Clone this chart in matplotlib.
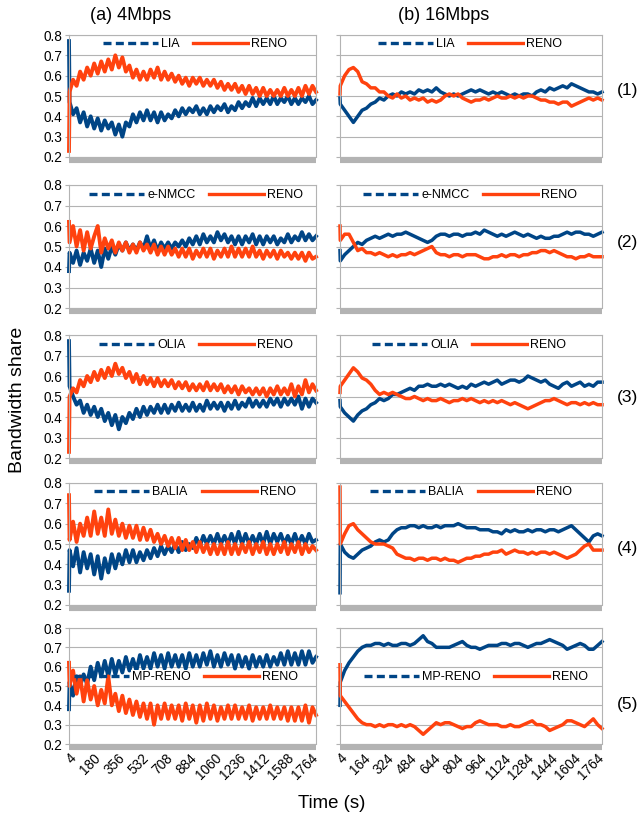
import numpy as np
import matplotlib
matplotlib.use("Agg")
import matplotlib.pyplot as plt
from matplotlib.lines import Line2D

plt.rcParams['font.family'] = ['Liberation Sans', 'DejaVu Sans']

BLUE = "#004586"
ORANGE = "#ff420e"
GRID = "#b3b3b3"
W, H = 642, 814

# ── data: left column (4 Mbps), sampled every ~25 s ─────────────────────────
LIA_4 = [0.77, 0.47, 0.41, 0.44, 0.37, 0.42, 0.35, 0.40, 0.34, 0.39, 0.33, 0.38,
         0.34, 0.37, 0.31, 0.36, 0.30, 0.37, 0.35, 0.41, 0.37, 0.42, 0.38, 0.43,
         0.38, 0.42, 0.37, 0.42, 0.38, 0.41, 0.39, 0.43, 0.40, 0.44, 0.41, 0.44,
         0.42, 0.45, 0.41, 0.44, 0.41, 0.45, 0.42, 0.45, 0.43, 0.46, 0.42, 0.45,
         0.43, 0.47, 0.44, 0.47, 0.45, 0.49, 0.45, 0.49, 0.46, 0.49, 0.46, 0.50,
         0.46, 0.49, 0.47, 0.50, 0.46, 0.49, 0.46, 0.49, 0.47, 0.50, 0.46, 0.48]
RENO_LIA_4 = [0.23, 0.52, 0.58, 0.55, 0.62, 0.58, 0.64, 0.60, 0.66, 0.61, 0.67, 0.62,
              0.68, 0.63, 0.70, 0.64, 0.69, 0.62, 0.65, 0.59, 0.63, 0.58, 0.62, 0.58,
              0.63, 0.59, 0.64, 0.58, 0.62, 0.58, 0.61, 0.57, 0.60, 0.56, 0.59, 0.55,
              0.59, 0.56, 0.59, 0.55, 0.58, 0.55, 0.58, 0.54, 0.57, 0.53, 0.56, 0.53,
              0.56, 0.52, 0.55, 0.51, 0.55, 0.51, 0.54, 0.50, 0.54, 0.50, 0.53, 0.50,
              0.53, 0.50, 0.54, 0.50, 0.53, 0.50, 0.54, 0.50, 0.55, 0.51, 0.55, 0.52]
ENMCC_4 = [0.38, 0.47, 0.42, 0.48, 0.41, 0.47, 0.43, 0.49, 0.42, 0.48, 0.40, 0.49,
           0.44, 0.50, 0.46, 0.51, 0.48, 0.52, 0.48, 0.51, 0.48, 0.52, 0.49, 0.55,
           0.49, 0.53, 0.48, 0.52, 0.49, 0.52, 0.49, 0.52, 0.50, 0.53, 0.50, 0.54,
           0.51, 0.55, 0.51, 0.56, 0.52, 0.55, 0.52, 0.57, 0.53, 0.56, 0.52, 0.55,
           0.51, 0.55, 0.51, 0.55, 0.52, 0.56, 0.51, 0.55, 0.51, 0.55, 0.52, 0.55,
           0.51, 0.54, 0.52, 0.56, 0.52, 0.55, 0.53, 0.57, 0.53, 0.56, 0.53, 0.55]
RENO_ENMCC_4 = [0.62, 0.52, 0.60, 0.50, 0.58, 0.48, 0.57, 0.49, 0.55, 0.60, 0.47, 0.54,
                0.49, 0.53, 0.47, 0.52, 0.48, 0.52, 0.47, 0.51, 0.47, 0.52, 0.48, 0.51,
                0.47, 0.51, 0.46, 0.50, 0.46, 0.50, 0.46, 0.49, 0.45, 0.49, 0.45, 0.49,
                0.44, 0.48, 0.45, 0.49, 0.45, 0.49, 0.44, 0.48, 0.45, 0.49, 0.45, 0.50,
                0.45, 0.49, 0.45, 0.49, 0.45, 0.50, 0.45, 0.48, 0.44, 0.48, 0.45, 0.48,
                0.44, 0.48, 0.45, 0.47, 0.44, 0.47, 0.44, 0.47, 0.43, 0.47, 0.44, 0.45]
OLIA_4 = [0.77, 0.55, 0.50, 0.46, 0.48, 0.42, 0.46, 0.41, 0.45, 0.40, 0.44, 0.38,
          0.42, 0.36, 0.41, 0.34, 0.40, 0.37, 0.42, 0.39, 0.44, 0.40, 0.45, 0.41,
          0.45, 0.42, 0.46, 0.42, 0.46, 0.42, 0.46, 0.43, 0.47, 0.43, 0.46, 0.43,
          0.47, 0.43, 0.46, 0.43, 0.48, 0.44, 0.47, 0.44, 0.47, 0.43, 0.47, 0.44,
          0.48, 0.44, 0.47, 0.45, 0.49, 0.45, 0.48, 0.45, 0.48, 0.45, 0.49, 0.46,
          0.49, 0.45, 0.49, 0.46, 0.49, 0.46, 0.50, 0.44, 0.49, 0.45, 0.49, 0.47]
RENO_OLIA_4 = [0.23, 0.50, 0.54, 0.52, 0.58, 0.55, 0.60, 0.57, 0.62, 0.58, 0.63, 0.59,
               0.64, 0.60, 0.66, 0.61, 0.64, 0.59, 0.62, 0.57, 0.61, 0.56, 0.60, 0.56,
               0.59, 0.55, 0.59, 0.55, 0.58, 0.55, 0.58, 0.54, 0.57, 0.54, 0.57, 0.53,
               0.56, 0.53, 0.56, 0.53, 0.57, 0.53, 0.56, 0.53, 0.56, 0.52, 0.55, 0.52,
               0.55, 0.51, 0.55, 0.52, 0.54, 0.51, 0.54, 0.51, 0.54, 0.50, 0.54, 0.51,
               0.55, 0.51, 0.54, 0.51, 0.56, 0.50, 0.55, 0.51, 0.58, 0.52, 0.56, 0.53]
BALIA_4 = [0.27, 0.47, 0.39, 0.48, 0.36, 0.46, 0.38, 0.45, 0.35, 0.44, 0.33, 0.43,
           0.36, 0.45, 0.38, 0.45, 0.40, 0.47, 0.41, 0.47, 0.41, 0.46, 0.42, 0.47,
           0.43, 0.48, 0.44, 0.49, 0.45, 0.49, 0.46, 0.50, 0.46, 0.51, 0.47, 0.50,
           0.48, 0.53, 0.49, 0.54, 0.50, 0.54, 0.50, 0.55, 0.50, 0.54, 0.50, 0.55,
           0.50, 0.56, 0.50, 0.55, 0.50, 0.54, 0.50, 0.55, 0.50, 0.56, 0.50, 0.55,
           0.51, 0.55, 0.50, 0.54, 0.50, 0.55, 0.50, 0.54, 0.50, 0.55, 0.51, 0.52]
RENO_BALIA_4 = [0.74, 0.52, 0.61, 0.51, 0.60, 0.54, 0.63, 0.54, 0.66, 0.55, 0.63, 0.54,
                0.67, 0.55, 0.62, 0.54, 0.60, 0.53, 0.59, 0.53, 0.59, 0.52, 0.58, 0.52,
                0.57, 0.51, 0.55, 0.50, 0.54, 0.49, 0.53, 0.48, 0.53, 0.47, 0.52, 0.47,
                0.51, 0.46, 0.51, 0.46, 0.50, 0.45, 0.50, 0.45, 0.50, 0.45, 0.51, 0.45,
                0.50, 0.45, 0.50, 0.46, 0.51, 0.45, 0.50, 0.46, 0.51, 0.45, 0.50, 0.45,
                0.50, 0.46, 0.51, 0.45, 0.50, 0.46, 0.51, 0.45, 0.50, 0.46, 0.49, 0.47]
MPRENO_4 = [0.38, 0.52, 0.45, 0.55, 0.50, 0.56, 0.51, 0.60, 0.53, 0.62, 0.55, 0.63,
            0.55, 0.64, 0.56, 0.63, 0.57, 0.65, 0.58, 0.64, 0.58, 0.66, 0.59, 0.65,
            0.59, 0.67, 0.60, 0.66, 0.59, 0.67, 0.60, 0.66, 0.60, 0.66, 0.59, 0.67,
            0.60, 0.66, 0.60, 0.67, 0.61, 0.68, 0.60, 0.66, 0.60, 0.67, 0.61, 0.66,
            0.59, 0.66, 0.60, 0.65, 0.59, 0.66, 0.60, 0.65, 0.60, 0.66, 0.60, 0.65,
            0.61, 0.67, 0.61, 0.68, 0.61, 0.67, 0.61, 0.68, 0.61, 0.68, 0.62, 0.65]
RENO_MPRENO_4 = [0.62, 0.50, 0.58, 0.46, 0.55, 0.42, 0.53, 0.43, 0.50, 0.40, 0.48, 0.41,
                 0.55, 0.40, 0.46, 0.37, 0.45, 0.36, 0.43, 0.35, 0.42, 0.34, 0.41, 0.33,
                 0.41, 0.30, 0.40, 0.33, 0.41, 0.33, 0.40, 0.33, 0.40, 0.32, 0.41, 0.33,
                 0.40, 0.31, 0.40, 0.32, 0.41, 0.33, 0.40, 0.32, 0.39, 0.33, 0.40, 0.33,
                 0.40, 0.33, 0.39, 0.33, 0.40, 0.32, 0.39, 0.33, 0.39, 0.33, 0.40, 0.33,
                 0.39, 0.33, 0.39, 0.32, 0.39, 0.32, 0.39, 0.32, 0.40, 0.31, 0.39, 0.35]

# ── data: right column (16 Mbps), first value at t=4 then every ~30 s ──────
LIA_16 = [0.49, 0.46,
          0.43, 0.40, 0.37, 0.40, 0.43, 0.44, 0.46, 0.47, 0.49, 0.48,
          0.50, 0.51, 0.50, 0.52, 0.51, 0.52, 0.51, 0.53, 0.52, 0.53,
          0.52, 0.54, 0.52, 0.51, 0.50, 0.51, 0.50, 0.51, 0.52, 0.53,
          0.52, 0.53, 0.52, 0.51, 0.52, 0.51, 0.52, 0.51, 0.50, 0.51,
          0.50, 0.51, 0.51, 0.50, 0.52, 0.53, 0.52, 0.54, 0.53, 0.54,
          0.55, 0.54, 0.56, 0.55, 0.54, 0.53, 0.52, 0.52, 0.51, 0.52]
RENO_LIA_16 = [0.51, 0.55,
               0.60, 0.63, 0.64, 0.62, 0.57, 0.56, 0.54, 0.54, 0.52, 0.52,
               0.50, 0.49, 0.51, 0.49, 0.50, 0.48, 0.49, 0.48, 0.49, 0.47,
               0.48, 0.47, 0.48, 0.50, 0.51, 0.50, 0.51, 0.49, 0.48, 0.47,
               0.48, 0.48, 0.49, 0.48, 0.49, 0.50, 0.49, 0.49, 0.50, 0.49,
               0.50, 0.49, 0.50, 0.50, 0.49, 0.48, 0.48, 0.47, 0.47, 0.46,
               0.47, 0.47, 0.45, 0.46, 0.47, 0.48, 0.49, 0.48, 0.49, 0.48]
ENMCC_16 = [0.48, 0.43,
            0.46, 0.48, 0.50, 0.52, 0.51, 0.53, 0.54, 0.55, 0.54, 0.55,
            0.56, 0.55, 0.56, 0.56, 0.57, 0.56, 0.55, 0.54, 0.53, 0.52,
            0.53, 0.55, 0.56, 0.56, 0.55, 0.56, 0.56, 0.55, 0.56, 0.56,
            0.57, 0.56, 0.58, 0.57, 0.56, 0.55, 0.56, 0.55, 0.56, 0.57,
            0.56, 0.55, 0.56, 0.55, 0.54, 0.55, 0.54, 0.54, 0.55, 0.55,
            0.56, 0.57, 0.56, 0.57, 0.57, 0.56, 0.56, 0.55, 0.56, 0.57]
RENO_ENMCC_16 = [0.60, 0.53,
                 0.56, 0.56, 0.52, 0.48, 0.49, 0.47, 0.47, 0.46, 0.47, 0.46,
                 0.45, 0.46, 0.45, 0.46, 0.46, 0.47, 0.46, 0.47, 0.48, 0.49,
                 0.50, 0.47, 0.46, 0.46, 0.45, 0.46, 0.46, 0.45, 0.46, 0.46,
                 0.46, 0.45, 0.44, 0.44, 0.45, 0.45, 0.46, 0.45, 0.46, 0.46,
                 0.45, 0.46, 0.46, 0.47, 0.47, 0.48, 0.48, 0.47, 0.48, 0.47,
                 0.46, 0.45, 0.45, 0.44, 0.45, 0.45, 0.46, 0.45, 0.45, 0.45]
OLIA_16 = [0.48, 0.45,
           0.42, 0.40, 0.38, 0.41, 0.43, 0.44, 0.46, 0.47, 0.49, 0.48,
           0.49, 0.51, 0.51, 0.52, 0.53, 0.54, 0.53, 0.55, 0.55, 0.56,
           0.55, 0.55, 0.56, 0.55, 0.56, 0.55, 0.54, 0.55, 0.54, 0.56,
           0.55, 0.56, 0.57, 0.56, 0.57, 0.58, 0.56, 0.57, 0.58, 0.58,
           0.57, 0.58, 0.60, 0.59, 0.58, 0.57, 0.58, 0.56, 0.55, 0.54,
           0.56, 0.57, 0.55, 0.56, 0.57, 0.55, 0.56, 0.55, 0.57, 0.57]
RENO_OLIA_16 = [0.52, 0.55,
                0.58, 0.61, 0.64, 0.62, 0.59, 0.58, 0.56, 0.53, 0.51, 0.52,
                0.51, 0.52, 0.51, 0.50, 0.49, 0.49, 0.50, 0.49, 0.48, 0.49,
                0.48, 0.48, 0.49, 0.48, 0.47, 0.48, 0.48, 0.49, 0.48, 0.49,
                0.48, 0.47, 0.48, 0.47, 0.48, 0.47, 0.48, 0.47, 0.46, 0.47,
                0.46, 0.45, 0.44, 0.45, 0.46, 0.47, 0.48, 0.48, 0.49, 0.48,
                0.47, 0.46, 0.47, 0.47, 0.46, 0.47, 0.46, 0.47, 0.46, 0.46]
BALIA_16 = [0.26, 0.50,
            0.46, 0.44, 0.43, 0.45, 0.47, 0.48, 0.49, 0.51, 0.52, 0.51,
            0.52, 0.55, 0.57, 0.58, 0.58, 0.59, 0.59, 0.58, 0.59, 0.58,
            0.58, 0.59, 0.58, 0.59, 0.59, 0.59, 0.60, 0.59, 0.58, 0.58,
            0.58, 0.57, 0.57, 0.57, 0.56, 0.56, 0.55, 0.57, 0.56, 0.57,
            0.56, 0.56, 0.57, 0.56, 0.57, 0.57, 0.56, 0.57, 0.57, 0.56,
            0.57, 0.58, 0.59, 0.57, 0.55, 0.53, 0.51, 0.54, 0.55, 0.54]
RENO_BALIA_16 = [0.78, 0.50,
                 0.55, 0.59, 0.60, 0.57, 0.55, 0.53, 0.51, 0.50, 0.50, 0.50,
                 0.49, 0.48, 0.45, 0.44, 0.43, 0.43, 0.42, 0.43, 0.43, 0.42,
                 0.43, 0.43, 0.42, 0.43, 0.42, 0.42, 0.41, 0.42, 0.43, 0.43,
                 0.44, 0.44, 0.45, 0.45, 0.46, 0.46, 0.47, 0.45, 0.46, 0.47,
                 0.46, 0.46, 0.45, 0.46, 0.45, 0.46, 0.46, 0.45, 0.46, 0.45,
                 0.44, 0.43, 0.44, 0.45, 0.47, 0.49, 0.50, 0.47, 0.47, 0.47]
MPRENO_16 = [0.40, 0.52,
             0.58, 0.62, 0.65, 0.68, 0.70, 0.71, 0.71, 0.72, 0.72, 0.71,
             0.72, 0.71, 0.71, 0.72, 0.72, 0.71, 0.72, 0.74, 0.76, 0.73,
             0.72, 0.70, 0.70, 0.70, 0.70, 0.71, 0.72, 0.73, 0.71, 0.70,
             0.70, 0.69, 0.70, 0.71, 0.71, 0.71, 0.72, 0.72, 0.71, 0.72,
             0.72, 0.71, 0.70, 0.71, 0.72, 0.72, 0.73, 0.74, 0.73, 0.72,
             0.71, 0.69, 0.70, 0.71, 0.72, 0.71, 0.69, 0.69, 0.71, 0.73]
RENO_MPRENO_16 = [0.61, 0.45,
                  0.42, 0.39, 0.36, 0.33, 0.31, 0.30, 0.30, 0.29, 0.30, 0.29,
                  0.30, 0.30, 0.29, 0.30, 0.29, 0.30, 0.29, 0.27, 0.25, 0.27,
                  0.29, 0.31, 0.30, 0.31, 0.31, 0.30, 0.29, 0.28, 0.29, 0.29,
                  0.31, 0.32, 0.31, 0.30, 0.30, 0.30, 0.29, 0.29, 0.30, 0.29,
                  0.29, 0.30, 0.31, 0.32, 0.30, 0.30, 0.29, 0.27, 0.28, 0.29,
                  0.30, 0.32, 0.32, 0.31, 0.30, 0.29, 0.31, 0.33, 0.30, 0.28]

ALGOS = ["LIA", "e-NMCC", "OLIA", "BALIA", "MP-RENO"]
LEFT = [(LIA_4, RENO_LIA_4), (ENMCC_4, RENO_ENMCC_4), (OLIA_4, RENO_OLIA_4),
        (BALIA_4, RENO_BALIA_4), (MPRENO_4, RENO_MPRENO_4)]
RIGHT = [(LIA_16, RENO_LIA_16), (ENMCC_16, RENO_ENMCC_16), (OLIA_16, RENO_OLIA_16),
         (BALIA_16, RENO_BALIA_16), (MPRENO_16, RENO_MPRENO_16)]
TICKS_4 = list(range(4, 1765, 176))
TICKS_16 = list(range(4, 1765, 160))
YTICKS = [0.2, 0.3, 0.4, 0.5, 0.6, 0.7, 0.8]

# ── layout in pixels ─────────────────────────────────────────────────────────
ROWS = [(35, 157), (185, 308), (335, 458), (483, 605), (628, 744)]
COLS = [(69, 316), (340, 602)]
LEG_POS = [[(195, 44), (470, 44)], [(196, 195), (470, 195)], [(196, 345), (469, 345)],
           [(195, 492), (471, 492)], [(186, 677), (476, 677)]]
ROW_LBL_Y = [91, 243, 397, 549, 705]


def times(vals, step_start):
    # first sample at t=4 (spike), rest evenly spread up to 1800 s
    return np.r_[4, np.linspace(step_start, 1800, len(vals) - 1)]


def style_axes(ax, xticks, ylabels, xlabels):
    ax.set_xlim(4, 1800)
    ax.set_ylim(0.2, 0.8)
    ax.set_yticks(YTICKS)
    ax.yaxis.grid(True, color=GRID, lw=0.8)
    ax.set_axisbelow(True)
    for s in ("top", "right", "left"):
        ax.spines[s].set_color(GRID)
        ax.spines[s].set_linewidth(0.8)
    ax.spines["bottom"].set_color(GRID)
    ax.spines["bottom"].set_linewidth(4.4)
    ax.spines["bottom"].set_capstyle("butt")
    ax.spines["bottom"].set_position(("outward", 2.2))
    ax.tick_params(axis="y", direction="out", length=3, color=GRID, labelsize=9.8,
                   pad=2, labelleft=ylabels)
    ax.set_xticks(xticks)
    ax.tick_params(axis="x", length=0, labelsize=9.8, pad=3, labelbottom=xlabels)
    if ylabels:
        ax.set_yticklabels([f"{v:.1f}" for v in YTICKS])
    if xlabels:
        ax.set_xticklabels([str(t) for t in xticks], rotation=45, ha="right",
                           va="top", rotation_mode="anchor")


fig = plt.figure(figsize=(W / 100, H / 100), dpi=100)

for r, (top, bot) in enumerate(ROWS):
    for c, (x0, x1) in enumerate(COLS):
        ax = fig.add_axes([x0 / W, 1 - bot / H, (x1 - x0) / W, (bot - top) / H])
        mp, reno = (LEFT if c == 0 else RIGHT)[r]
        start = 8 if c == 0 else 6
        lw = 2.8 if c == 0 else 2.5
        ax.plot(times(mp, start), mp, color=BLUE, lw=lw, clip_on=False,
                solid_joinstyle="round")
        ax.plot(times(reno, start), reno, color=ORANGE, lw=lw, clip_on=False,
                solid_joinstyle="round")
        style_axes(ax, TICKS_4 if c == 0 else TICKS_16, c == 0, r == len(ROWS) - 1)

        handles = [Line2D([0], [0], color=BLUE, lw=2.4, ls=(0, (2.4, 1.3))),
                   Line2D([0], [0], color=ORANGE, lw=2.4)]
        cx, cy = LEG_POS[r][c]
        leg = ax.legend(handles, [ALGOS[r], "RENO"], ncol=2, frameon=False, loc="center",
                        bbox_to_anchor=(cx / W, 1 - cy / H), bbox_transform=fig.transFigure,
                        fontsize=9, handlelength=4.4, handletextpad=0.25,
                        columnspacing=1.1, borderpad=0.1)
        for txt in leg.get_texts():
            txt.set_bbox(dict(facecolor="white", edgecolor="none", pad=0.6))

    fig.text(628 / W, 1 - ROW_LBL_Y[r] / H, f"({r + 1})", ha="center", va="center",
             fontsize=12.5)

fig.text(131 / W, 1 - 16 / H, "(a) 4Mbps", ha="center", va="center", fontsize=13)
fig.text(444 / W, 1 - 16 / H, "(b) 16Mbps", ha="center", va="center", fontsize=13)
fig.text(18 / W, 1 - 400 / H, "Bandwidth share", rotation=90, ha="center",
         va="center", fontsize=14)
fig.text(332 / W, 1 - 803 / H, "Time (s)", ha="center", va="center", fontsize=13.4)

fig.savefig("out.png", dpi=100)
